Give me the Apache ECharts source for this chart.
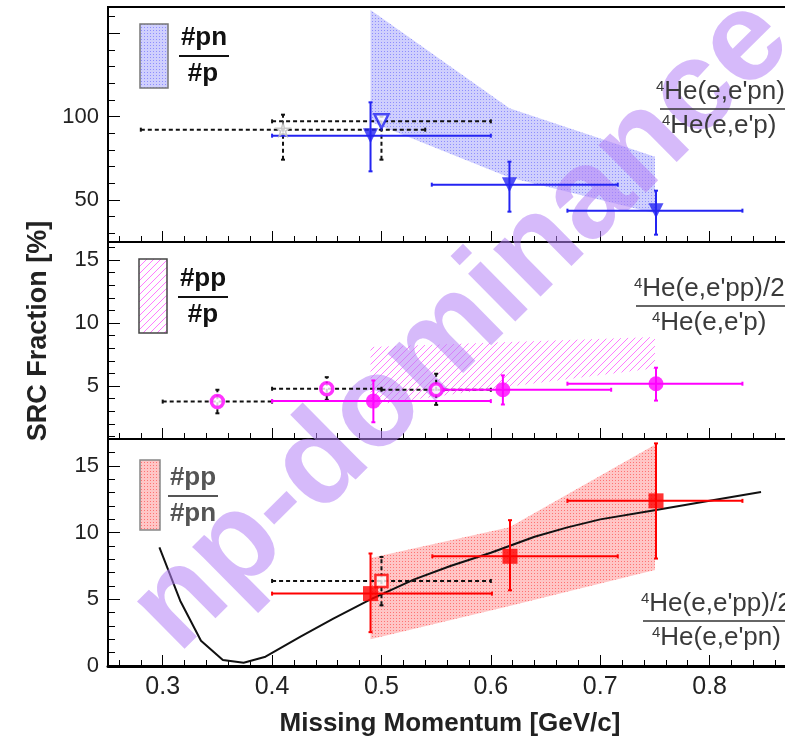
<!DOCTYPE html>
<html>
<head>
<meta charset="utf-8">
<script src="https://cdn.jsdelivr.net/npm/echarts@6/dist/echarts.min.js"></script>
<style>
html, body { margin: 0; padding: 0; background: #fff; }
#main { width: 785px; height: 740px; }
</style>
</head>
<body>
<div id="main"></div>
<script>
// ---- axis ticks ----
var xTicks = [0.3, 0.4, 0.5, 0.6, 0.7, 0.8];
var pnTicks = [50, 100, 150];
var pnLabels = [50, 100];
var ppTicks = [5, 10, 15];
var ppLabels = [5, 10, 15];
var rTicks = [0, 5, 10, 15];
var rLabels = [0, 5, 10, 15];

// ---- top panel: #pn / #p ----
var pnX = [0.49, 0.617, 0.751];
var pnY = [88.6, 59.2, 43.6];
var pnXLo = [0.40, 0.546, 0.67];
var pnXHi = [0.60, 0.716, 0.83];
var pnYLo = [67.2, 43, 29.2];
var pnYHi = [108.6, 73, 55.6];
var pnBandX = [0.49, 0.617, 0.75];
var pnBandLo = [97, 63.5, 42];
var pnBandHi = [164, 105, 76];
// older measurements (dashed)
var starX = [0.41], starY = [92.2], starXLo = [0.28], starXHi = [0.54], starYLo = [74.2], starYHi = [101.2];
var otriX = [0.50], otriY = [97.2], otriXLo = [0.40], otriXHi = [0.60], otriYLo = [74.2], otriYHi = [100];

// ---- middle panel: #pp / #p ----
var ppX = [0.4926, 0.611, 0.751];
var ppY = [3.8, 4.7, 5.18];
var ppXLo = [0.40, 0.557, 0.67];
var ppXHi = [0.60, 0.71, 0.83];
var ppYLo = [2.12, 3.53, 3.84];
var ppYHi = [5.44, 5.84, 6.45];
var ppBandX = [0.49, 0.617, 0.75];
var ppBandLo = [3.45, 4.95, 6.4];
var ppBandHi = [8.09, 8.5, 8.89];
var ocX = [0.35, 0.45, 0.55];
var ocY = [3.76, 4.78, 4.70];
var ocXLo = [0.30, 0.40, 0.50];
var ocXHi = [0.40, 0.50, 0.60];
var ocYLo = [2.83, 3.90, 3.50];
var ocYHi = [4.70, 5.70, 5.97];

// ---- bottom panel: #pp / #pn ----
var rX = [0.49, 0.6175, 0.751];
var rY = [5.43, 8.23, 12.39];
var rXLo = [0.40, 0.5465, 0.67];
var rXHi = [0.601, 0.716, 0.83];
var rYLo = [2.54, 5.68, 8.06];
var rYHi = [8.44, 10.94, 16.7];
var rBandX = [0.49, 0.617, 0.75];
var rBandLo = [2.0, 4.5, 7.2];
var rBandHi = [8.1, 10.4, 16.6];
var osqX = [0.50], osqY = [6.38], osqXLo = [0.40], osqXHi = [0.60], osqYLo = [4.55], osqYHi = [8.18];
var curveX = [0.297, 0.316, 0.335, 0.355, 0.374, 0.394, 0.426, 0.456, 0.49, 0.53, 0.563, 0.60, 0.64, 0.67, 0.70, 0.751, 0.80, 0.847];
var curveY = [8.9, 4.9, 1.9, 0.45, 0.25, 0.7, 2.2, 3.55, 5.0, 6.5, 7.5, 8.5, 9.7, 10.4, 11.0, 11.7, 12.4, 13.05];

var BLUE = '#2424f2', MAG = '#ff00ff', RED = '#ff0000';
var FONT = '"Liberation Sans", Arial, sans-serif';

function minors(lo, hi, step, majors) {
  var out = [];
  for (var v = lo; v <= hi + 1e-9; v += step) {
    var r = Math.round(v * 1000) / 1000;
    if (majors.indexOf(r) < 0) out.push(r);
  }
  return out;
}

function dotPattern(bg, dot) {
  var c = document.createElement('canvas');
  c.width = 3; c.height = 3;
  var ctx = c.getContext('2d');
  ctx.fillStyle = bg; ctx.fillRect(0, 0, 3, 3);
  ctx.fillStyle = dot; ctx.fillRect(0, 0, 1, 1);
  return { image: c, repeat: 'repeat' };
}
function hatchPattern(col, size) {
  var c = document.createElement('canvas');
  c.width = size; c.height = size;
  var ctx = c.getContext('2d');
  ctx.fillStyle = col;
  for (var i = 0; i < size; i++) ctx.fillRect(i, size - 1 - i, 1, 1);
  return { image: c, repeat: 'repeat' };
}
var bluePat = dotPattern('rgba(140,140,250,0.42)', 'rgba(100,100,255,0.6)');
var magPat = hatchPattern('rgba(255,80,255,0.75)', 7);
var redPat = dotPattern('rgba(255,120,120,0.42)', 'rgba(255,60,60,0.6)');

var ranges = [[24.8, 165.8], [0.79, 16.43], [0, 17.03]];
var yMaj = [pnTicks, ppTicks, rTicks];
var yLab = [pnLabels, ppLabels, rLabels];
var yMin = [minors(30, 160, 10, pnTicks), minors(1, 16, 1, ppTicks), minors(1, 17, 1, rTicks)];
var xMin = minors(0.26, 0.88, 0.02, xTicks);

var grids = [
  { left: 108, width: 711, top: 7, height: 235 },
  { left: 108, width: 711, top: 242, height: 197 },
  { left: 108, width: 711, top: 439, height: 227 }
];
grids.forEach(function (g) {
  g.show = true; g.borderColor = '#000'; g.borderWidth = 2; g.outerBoundsMode = 'none';
});

var xAxes = [], yAxes = [];
for (var g = 0; g < 3; g++) {
  xAxes.push({
    gridIndex: g, type: 'value', position: 'bottom', min: 0.25, max: 0.9,
    axisLine: { show: true, lineStyle: { color: '#000', width: g === 2 ? 3 : 2 } },
    axisTick: { inside: true, length: 11, customValues: xTicks, lineStyle: { color: '#000', width: 1 } },
    axisLabel: { show: g === 2, customValues: xTicks, margin: 9, color: '#222', fontSize: 25, fontFamily: FONT,
      formatter: function (v) { return v.toFixed(1); } },
    splitLine: { show: false }
  });
  xAxes.push({
    gridIndex: g, type: 'value', position: 'bottom', min: 0.25, max: 0.9,
    axisLine: { show: false },
    axisTick: { inside: true, length: 6, customValues: xMin, lineStyle: { color: '#000', width: 1 } },
    axisLabel: { show: false }, splitLine: { show: false }
  });
  yAxes.push({
    gridIndex: g, type: 'value', position: 'left', min: ranges[g][0], max: ranges[g][1],
    axisLine: { show: true, lineStyle: { color: '#000', width: 2 } },
    axisTick: { inside: true, length: 12, customValues: yMaj[g], lineStyle: { color: '#000', width: 1 } },
    axisLabel: { customValues: yLab[g], margin: 9, color: '#222', fontSize: 22, fontFamily: FONT },
    splitLine: { show: false }
  });
  yAxes.push({
    gridIndex: g, type: 'value', position: 'left', min: ranges[g][0], max: ranges[g][1],
    axisLine: { show: false },
    axisTick: { inside: true, length: 7, customValues: yMin[g], lineStyle: { color: '#000', width: 1 } },
    axisLabel: { show: false }, splitLine: { show: false }
  });
}

function bandSeries(g, xs, lo, hi, fill) {
  return {
    type: 'custom', xAxisIndex: 2 * g, yAxisIndex: 2 * g, z: 1, silent: true,
    data: xs.map(function (x, i) { return [x, lo[i], hi[i]]; }),
    encode: { x: 0, y: [1, 2] },
    renderItem: function (params, api) {
      if (params.dataIndex !== 0) return null;
      var pts = [], i;
      for (i = 0; i < xs.length; i++) pts.push(api.coord([xs[i], hi[i]]));
      for (i = xs.length - 1; i >= 0; i--) pts.push(api.coord([xs[i], lo[i]]));
      return { type: 'polygon', shape: { points: pts }, style: { fill: fill } };
    }
  };
}

function errSeries(g, xs, ys, xlo, xhi, ylo, yhi, color, dashed) {
  return {
    type: 'custom', xAxisIndex: 2 * g, yAxisIndex: 2 * g, z: 6, silent: true,
    data: xs.map(function (x, i) { return [x, ys[i], xlo[i], xhi[i], ylo[i], yhi[i]]; }),
    encode: { x: [0, 2, 3], y: [1, 4, 5] },
    renderItem: function (params, api) {
      var l = api.coord([api.value(2), api.value(1)]);
      var r = api.coord([api.value(3), api.value(1)]);
      var b = api.coord([api.value(0), api.value(4)]);
      var t = api.coord([api.value(0), api.value(5)]);
      var st = { stroke: color, lineWidth: 2, lineDash: dashed ? [4, 3] : null };
      var cs = { stroke: color, lineWidth: 2 };
      var k = 2;
      return {
        type: 'group', children: [
          { type: 'line', shape: { x1: l[0], y1: l[1], x2: r[0], y2: r[1] }, style: st },
          { type: 'line', shape: { x1: b[0], y1: b[1], x2: t[0], y2: t[1] }, style: st },
          { type: 'line', shape: { x1: l[0], y1: l[1] - k, x2: l[0], y2: l[1] + k }, style: cs },
          { type: 'line', shape: { x1: r[0], y1: r[1] - k, x2: r[0], y2: r[1] + k }, style: cs },
          { type: 'line', shape: { x1: b[0] - k, y1: b[1], x2: b[0] + k, y2: b[1] }, style: cs },
          { type: 'line', shape: { x1: t[0] - k, y1: t[1], x2: t[0] + k, y2: t[1] }, style: cs }
        ]
      };
    }
  };
}

function marks(g, xs, ys, opt) {
  var s = {
    type: 'scatter', xAxisIndex: 2 * g, yAxisIndex: 2 * g, z: 7, silent: true,
    data: xs.map(function (x, i) { return [x, ys[i]]; })
  };
  for (var k in opt) s[k] = opt[k];
  return s;
}

var STAR = 'path://M50,0 L61,35 L98,35 L68,57 L79,91 L50,70 L21,91 L32,57 L2,35 L39,35 Z';

var series = [
  bandSeries(0, pnBandX, pnBandLo, pnBandHi, bluePat),
  bandSeries(1, ppBandX, ppBandLo, ppBandHi, magPat),
  bandSeries(2, rBandX, rBandLo, rBandHi, redPat),

  errSeries(0, starX, starY, starXLo, starXHi, starYLo, starYHi, '#111', true),
  errSeries(0, otriX, otriY, otriXLo, otriXHi, otriYLo, otriYHi, '#111', true),
  errSeries(0, pnX, pnY, pnXLo, pnXHi, pnYLo, pnYHi, BLUE, false),
  marks(0, starX, starY, { symbol: STAR, symbolSize: 13, itemStyle: { color: '#fff', borderColor: '#bbb', borderWidth: 1.5 } }),
  marks(0, otriX, otriY, { symbol: 'triangle', symbolRotate: 180, symbolSize: 14, itemStyle: { color: '#fff', borderColor: BLUE, borderWidth: 2.5 } }),
  marks(0, pnX, pnY, { symbol: 'triangle', symbolRotate: 180, symbolSize: 15, itemStyle: { color: BLUE } }),

  errSeries(1, ocX, ocY, ocXLo, ocXHi, ocYLo, ocYHi, '#111', true),
  errSeries(1, ppX, ppY, ppXLo, ppXHi, ppYLo, ppYHi, MAG, false),
  marks(1, ocX, ocY, { symbol: 'circle', symbolSize: 12, itemStyle: { color: '#fff', borderColor: MAG, borderWidth: 3.5 } }),
  marks(1, ppX, ppY, { symbol: 'circle', symbolSize: 15, itemStyle: { color: MAG } }),

  {
    type: 'line', xAxisIndex: 4, yAxisIndex: 4, z: 5, silent: true, symbol: 'none',
    data: curveX.map(function (x, i) { return [x, curveY[i]]; }),
    lineStyle: { color: '#111', width: 2 }
  },
  errSeries(2, osqX, osqY, osqXLo, osqXHi, osqYLo, osqYHi, '#111', true),
  errSeries(2, rX, rY, rXLo, rXHi, rYLo, rYHi, RED, false),
  marks(2, osqX, osqY, { symbol: 'rect', symbolSize: 12, itemStyle: { color: '#fff', borderColor: RED, borderWidth: 2.5 } }),
  marks(2, rX, rY, { symbol: 'rect', symbolSize: 15, itemStyle: { color: RED } })
];

function frac(x, y, top, bottom, color, size, x2) {
  return [
    { type: 'text', x: x, y: y, z: 8, style: { text: top, fill: color, font: 'bold ' + size + 'px ' + FONT, align: 'center', verticalAlign: 'middle' } },
    { type: 'line', z: 8, shape: { x1: x - 25, y1: y + 18, x2: x + 25, y2: y + 18 }, style: { stroke: color, lineWidth: 2 } },
    { type: 'text', x: x2, y: y + 36, z: 8, style: { text: bottom, fill: color, font: 'bold ' + size + 'px ' + FONT, align: 'center', verticalAlign: 'middle' } }
  ];
}

function reaction(x, y, top, x2, bottom, lx) {
  var rich = { s: { fontSize: 15, verticalAlign: 'top', fill: '#3a3a3a', fontFamily: FONT }, t: { fontSize: 26, fill: '#3a3a3a', fontFamily: FONT } };
  return [
    { type: 'text', x: x, y: y, z: 8, style: { text: '{s|4}{t|' + top + '}', rich: rich, verticalAlign: 'middle' } },
    { type: 'line', z: 8, shape: { x1: lx, y1: y + 17, x2: 790, y2: y + 17 }, style: { stroke: '#333', lineWidth: 1.5 } },
    { type: 'text', x: x2, y: y + 34, z: 8, style: { text: '{s|4}{t|' + bottom + '}', rich: rich, verticalAlign: 'middle' } }
  ];
}

var graphics = [
  { type: 'rect', z: 8, shape: { x: 140, y: 24, width: 28, height: 64 }, style: { fill: bluePat, stroke: '#777', lineWidth: 1.5 } },
  { type: 'rect', z: 8, shape: { x: 139, y: 259, width: 28, height: 74 }, style: { fill: magPat, stroke: '#444', lineWidth: 1.5 } },
  { type: 'rect', z: 8, shape: { x: 140, y: 460, width: 20, height: 70 }, style: { fill: redPat, stroke: '#888', lineWidth: 1.5 } }
]
  .concat(frac(204, 38, '#pn', '#p', '#111', 26, 203))
  .concat(frac(203, 279, '#pp', '#p', '#111', 26, 203))
  .concat(frac(193, 478, '#pp', '#pn', '#555', 26, 193))
  .concat(reaction(656, 92, "He(e,e'pn)", 662, "He(e,e'p)", 660))
  .concat(reaction(634, 289, "He(e,e'pp)/2", 652, "He(e,e'p)", 636))
  .concat(reaction(641, 604, "He(e,e'pp)/2", 652, "He(e,e'pn)", 643))
  .concat([
    { type: 'text', x: 39, y: 331, rotation: Math.PI / 2, z: 8,
      style: { text: 'SRC Fraction [%]', fill: '#222', font: 'bold 27px ' + FONT, align: 'center', verticalAlign: 'middle' } },
    { type: 'text', x: 450, y: 724, z: 8,
      style: { text: 'Missing Momentum [GeV/c]', fill: '#222', font: 'bold 26px ' + FONT, align: 'center', verticalAlign: 'middle' } },
    { type: 'text', x: 462, y: 325, rotation: 0.78, z: 6,
      style: { text: 'np-dominance', fill: 'rgba(180,130,245,0.55)', font: 'bold 127px ' + FONT, align: 'center', verticalAlign: 'middle' } }
  ]);

var chart = echarts.init(document.getElementById('main'));
chart.setOption({
  animation: false,
  backgroundColor: '#fff',
  grid: grids,
  xAxis: xAxes,
  yAxis: yAxes,
  series: series,
  graphic: { elements: graphics }
});
</script>
</body>
</html>
